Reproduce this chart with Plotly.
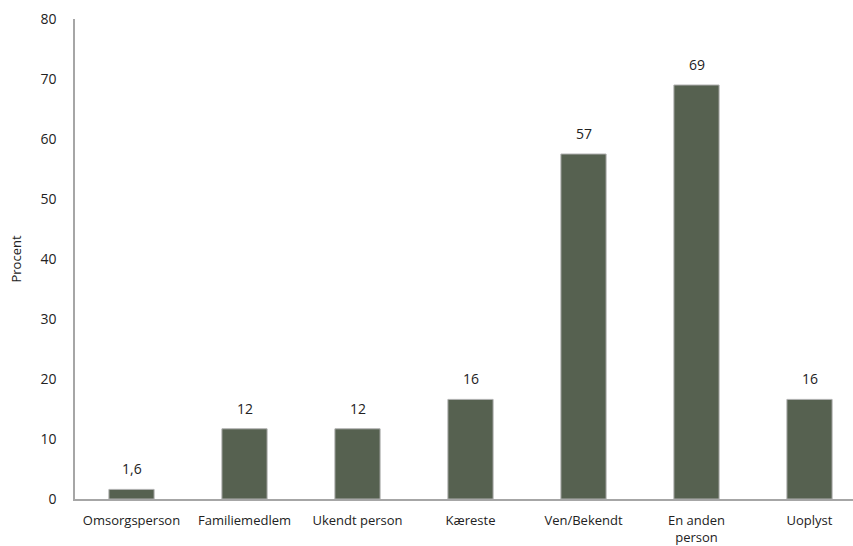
import plotly.graph_objects as go

categories = ["Omsorgsperson", "Familiemedlem", "Ukendt person", "Kæreste",
              "Ven/Bekendt", "En anden<br>person", "Uoplyst"]
values = [1.6, 11.7, 11.7, 16.6, 57.5, 69.0, 16.6]
labels = ["1,6", "12", "12", "16", "57", "69", "16"]
y_ticks = [0, 10, 20, 30, 40, 50, 60, 70, 80]

FONT = "Open Sans"

fig = go.Figure(go.Bar(
    x=categories, y=values,
    marker=dict(color="#566150", line=dict(color="#b0b0b0", width=1)),
    width=0.4,
))

for c, v, t in zip(categories, values, labels):
    fig.add_annotation(x=c, y=v, text=t, showarrow=False, yanchor="bottom",
                       yshift=9, font=dict(family=FONT, size=14, color="#222222"))

fig.update_layout(
    width=853, height=546,
    margin=dict(l=75, r=0, t=19, b=47),
    plot_bgcolor="white", paper_bgcolor="white",
    showlegend=False,
    font=dict(family=FONT, size=12, color="#222222"),
    xaxis=dict(range=[-0.5, 6.385], showline=True, linecolor="#a6a6a6",
               linewidth=1.5, ticks="", showgrid=False, ticklabelstandoff=9,
               tickfont=dict(family=FONT, size=13, color="#222222")),
    yaxis=dict(range=[0, 80], tickvals=y_ticks, showline=True,
               linecolor="#a6a6a6", linewidth=1.5, showgrid=False,
               zeroline=False, ticks="", ticklabelstandoff=14,
               tickfont=dict(family=FONT, size=14, color="#222222"),
               title=dict(text="Procent", standoff=16,
                          font=dict(family=FONT, size=13, color="#222222"))),
)

fig.write_html("out.html")
